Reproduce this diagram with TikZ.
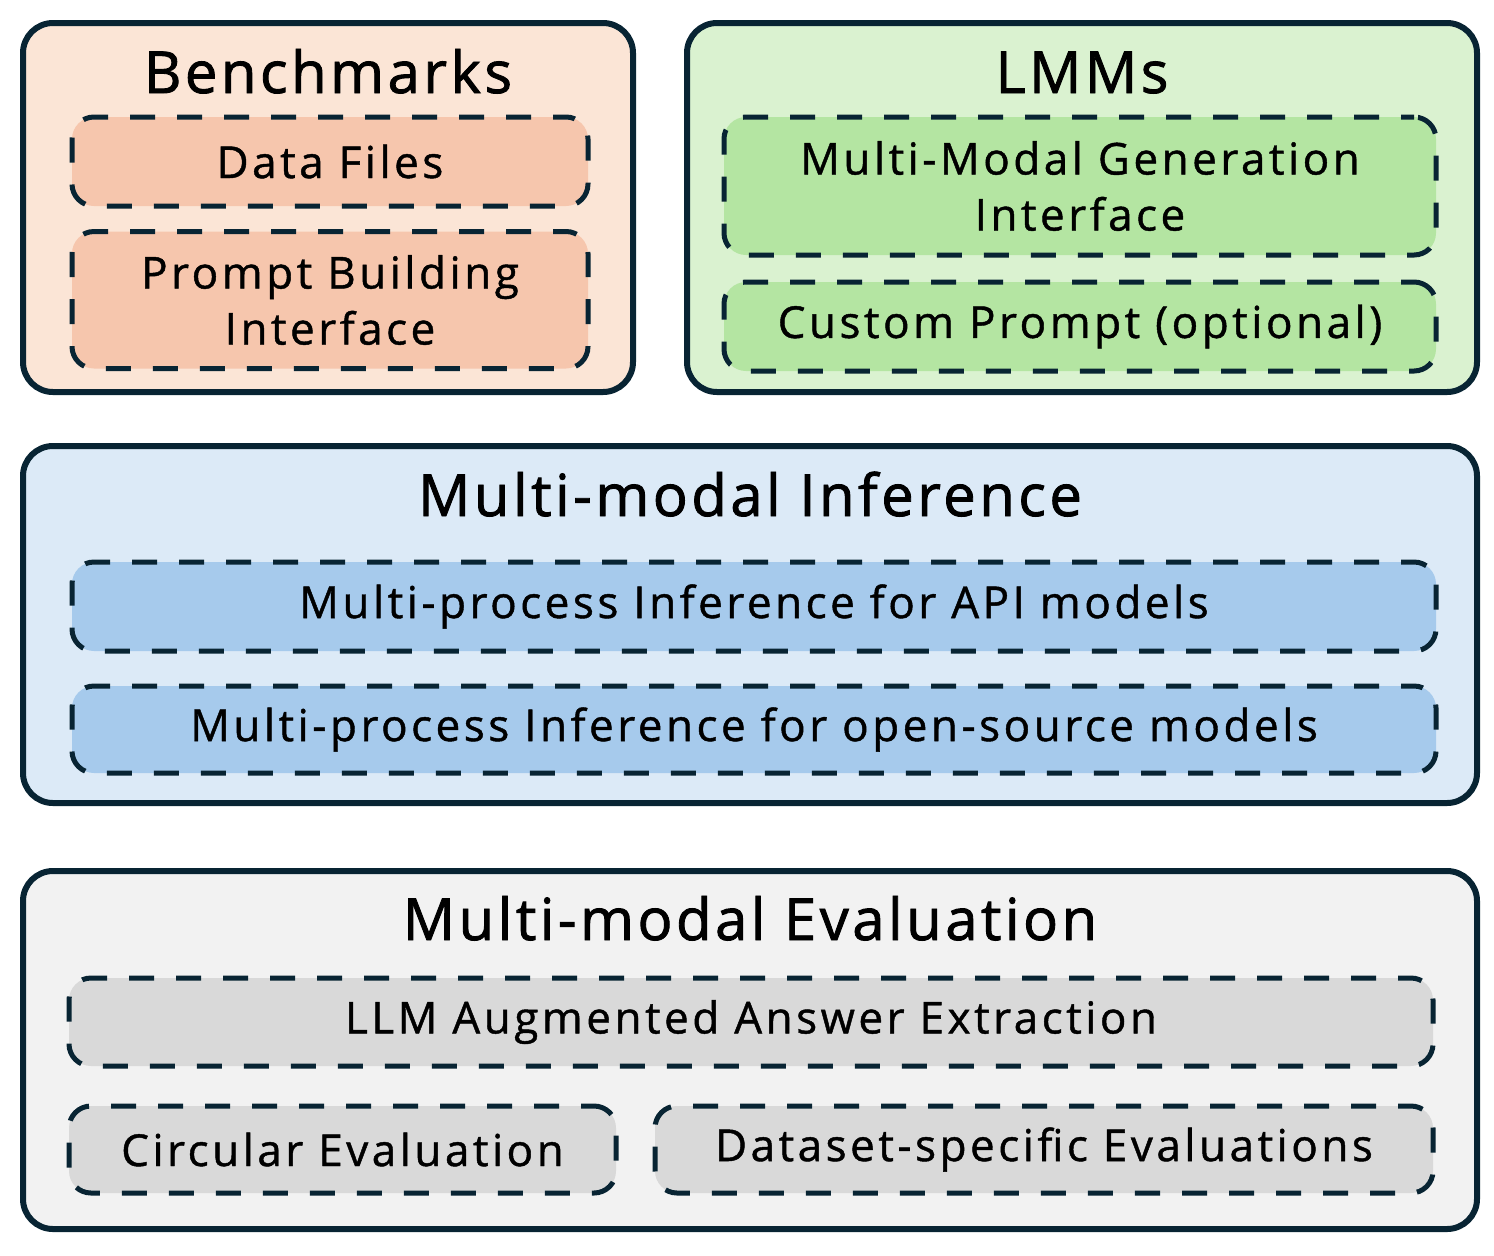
\documentclass[tikz,border=0pt]{standalone}
\usepackage{fontspec}
\setmainfont{Open Sans}
\newfontfamily\partfont{Open Sans}[LetterSpace=8,FakeBold=1]
\newfontfamily\headfont{Open Sans}[LetterSpace=6,FakeBold=1.5]
\usepackage{tikz}
\usetikzlibrary{positioning}
\definecolor{edge}{HTML}{082433}
\definecolor{benchout}{HTML}{FBE5D6}
\definecolor{benchin}{HTML}{F6C6AD}
\definecolor{lmmout}{HTML}{DAF2D0}
\definecolor{lmmin}{HTML}{B4E5A2}
\definecolor{infout}{HTML}{DCEAF7}
\definecolor{infin}{HTML}{A6CAEC}
\definecolor{evalout}{HTML}{F2F2F2}
\definecolor{evalin}{HTML}{D9D9D9}
\begin{document}
\begin{tikzpicture}[x=0.5pt,y=-0.5pt,
		panel/.style={draw=edge, line width=3pt, rounded corners=15pt, inner sep=0pt},
		part/.style={draw=edge, line width=2.5pt, rounded corners=11pt, inner sep=0pt,
			dash pattern=on 12.5pt off 11pt, dash phase=6pt, align=center,
			font=\partfont\fontsize{22}{28}\selectfont},
		heading/.style={anchor=base, font=\headfont\fontsize{29}{34}\selectfont}]
			\useasboundingbox (0,0) rectangle (1494,1255);
			% top row
			\node[panel, fill=benchout, minimum width=305pt, minimum height=184.5pt] (bench) at (328, 207.5) {};
			\node[heading] (benchtitle) at (328, 93) {Benchmarks};
			\node[part, fill=benchin, minimum width=258pt, minimum height=44.5pt] (datafiles) at (330, 161.5) {Data Files};
			\node[part, fill=benchin, minimum width=258pt, minimum height=68.5pt] (prompt) at (330, 300) {Prompt Building\\Interface};
			\node[panel, fill=lmmout, minimum width=395pt, minimum height=184.5pt] (lmms) at (1082, 207.5) {};
			\node[heading] (lmmstitle) at (1082, 93) {LMMs};
			\node[part, fill=lmmin, minimum width=356pt, minimum height=69pt] (gen) at (1080, 186) {Multi-Modal Generation\\Interface};
			\node[part, fill=lmmin, minimum width=356pt, minimum height=44.5pt] (custom) at (1080, 326.5) {Custom Prompt (optional)};
			% inference
			\node[panel, fill=infout, minimum width=727pt, minimum height=178.5pt] (inf) at (750, 624.5) {};
			\node[heading] (inftitle) at (750, 516) {Multi-modal Inference};
			\node[part, fill=infin, minimum width=682pt, minimum height=44.5pt] (api) at (754, 606.5) {Multi-process Inference for API models};
			\node[part, fill=infin, minimum width=682pt, minimum height=43.5pt] (open) at (754, 729.5) {Multi-process Inference for open-source models};
			% evaluation
			\node[panel, fill=evalout, minimum width=727pt, minimum height=179pt] (eval) at (750, 1050) {};
			\node[heading] (evaltitle) at (750, 940) {Multi-modal Evaluation};
			\node[part, fill=evalin, minimum width=682pt, minimum height=44pt] (llm) at (751, 1022) {LLM Augmented Answer Extraction};
			\node[part, fill=evalin, minimum width=273.5pt, minimum height=43.5pt] (circ) at (342.5, 1149.5) {Circular Evaluation};
			\node[part, fill=evalin, minimum width=389pt, minimum height=43.5pt] (dataset) at (1044, 1149.5) {Dataset-specific Evaluations};
			\end{tikzpicture}
\end{document}
